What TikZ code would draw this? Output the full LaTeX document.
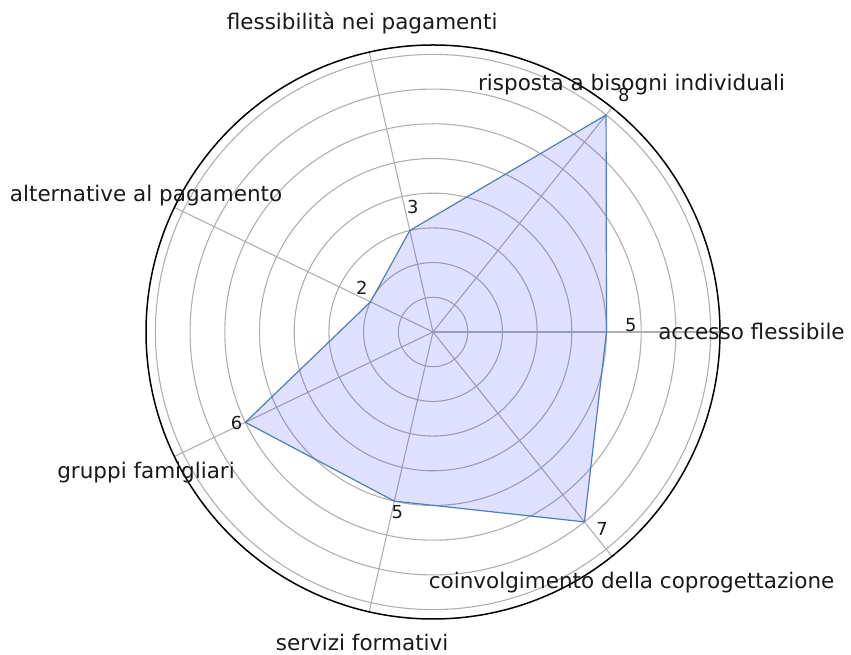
\documentclass[tikz,border=0pt]{standalone}
\usepackage{fontspec}
\setmainfont{DejaVu Sans}
\usetikzlibrary{calc}
\definecolor{gridc}{HTML}{B0B0B0}
\definecolor{polyc}{HTML}{4A7FC0}
\begin{document}
\begin{tikzpicture}[x=1pt,y=1pt,
  gridline/.style={draw=gridc,line width=1.1pt},
  spine/.style={draw=black,line width=1.5pt},
  polyfill/.style={fill=blue,fill opacity=0.12},
  polyline/.style={draw=polyc,line width=1.2pt,line join=miter},
  axlabel/.style={font=\fontsize{21.5}{25}\selectfont,anchor=base,inner sep=0pt,text=black!90},
  vallabel/.style={font=\fontsize{17.9}{21}\selectfont,anchor=base west,inner sep=0pt,xshift=1pt,text=black!90},
]
\useasboundingbox (0,0) rectangle (851,655);
\coordinate (C) at (433,323);
\def\u{34.7}
\def\R{287}
% grid circles
\foreach \rr in {1,...,8} \draw[gridline] (C) circle[radius=\rr*\u];
% radial grid lines
\foreach \i in {0,...,6} \draw[gridline] (C) -- ++({\i*360/7}:\R);
% data points
\foreach \v [count=\i from 0] in {5,8,3,2,6,5,7}
  \coordinate (p\i) at ($(C)+({\i*360/7}:{\v*\u})$);
\fill[polyfill] (p0)--(p1)--(p2)--(p3)--(p4)--(p5)--(p6)--cycle;
\draw[polyline] (p0)--(p1)--(p2)--(p3)--(p4)--(p5)--(p6)--cycle;
% outer spine
\draw[spine] (C) circle[radius=\R];
% value labels
\foreach \v [count=\i from 0] in {5,8,3,2,6,5,7}
  \node[vallabel] (v\i) at ($(C)+({\i*360/7}:{(\v+0.5)*\u})$) {\v};
% category labels
\node[axlabel] (l0) at ($(C)+({0*360/7}:318.5)+(0,-8)$) {accesso flessibile};
\node[axlabel] (l1) at ($(C)+({1*360/7}:318.5)+(0,-8)$) {risposta a bisogni individuali};
\node[axlabel] (l2) at ($(C)+({2*360/7}:318.5)+(0,-8)$) {flessibilità nei pagamenti};
\node[axlabel] (l3) at ($(C)+({3*360/7}:318.5)+(0,-8)$) {alternative al pagamento};
\node[axlabel] (l4) at ($(C)+({4*360/7}:318.5)+(0,-8)$) {gruppi famigliari};
\node[axlabel] (l5) at ($(C)+({5*360/7}:318.5)+(0,-8)$) {servizi formativi};
\node[axlabel] (l6) at ($(C)+({6*360/7}:318.5)+(0,-8)$) {coinvolgimento della coprogettazione};
\end{tikzpicture}
\end{document}
